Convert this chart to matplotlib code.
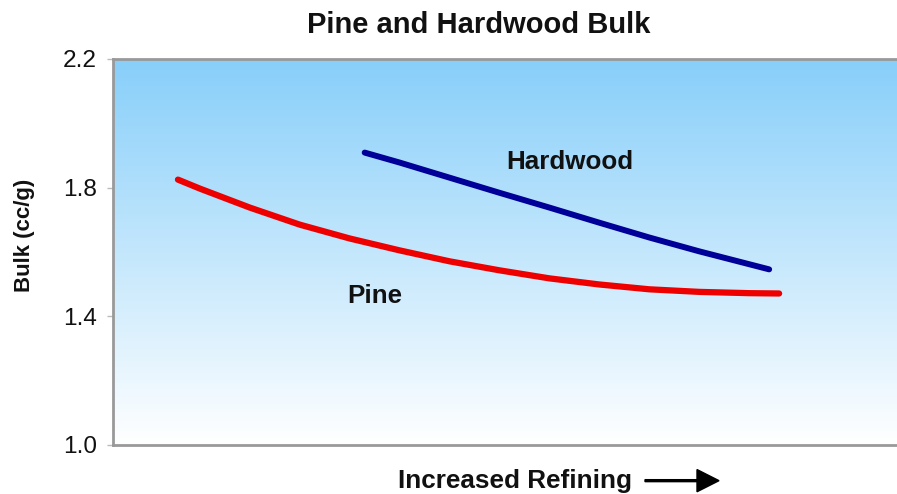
import numpy as np
import matplotlib
matplotlib.use('Agg')
import matplotlib.pyplot as plt

# Values (x in arbitrary "refining" units)
pine_x = [0.65, 0.87, 1.37, 1.87, 2.37, 2.87, 3.37, 3.87, 4.37, 4.87, 5.37, 5.87, 6.37, 6.67]
pine_y = [1.825, 1.797, 1.738, 1.685, 1.642, 1.605, 1.571, 1.543, 1.518, 1.499,
          1.484, 1.476, 1.472, 1.471]
hard_x = [2.52, 2.87, 3.37, 3.87, 4.37, 4.87, 5.37, 5.87, 6.57]
hard_y = [1.909, 1.878, 1.831, 1.784, 1.738, 1.691, 1.645, 1.602, 1.546]
y_ticks = [1.0, 1.4, 1.8, 2.2]
y_tick_labels = ['1.0', '1.4', '1.8', '2.2']

plt.rcParams['font.family'] = ['Liberation Sans', 'DejaVu Sans']

fig = plt.figure(figsize=(8.97, 4.94), dpi=100)
ax = fig.add_axes([0.126, 0.0992, 0.884, 0.7814])

# gradient background, sky blue on top fading to white
top = np.array([0.53, 0.81, 0.98])
bottom = np.array([1.0, 1.0, 1.0])
t = np.linspace(0, 1, 256)[:, None]
grad = top * (1 - t) + bottom * t
grad = grad[:, None, :]
ax.imshow(grad, extent=[0, 7.94, 1.0, 2.2], aspect='auto', origin='upper', zorder=0)

ax.plot(pine_x, pine_y, color='#ee0000', lw=4.5, solid_capstyle='round',
        solid_joinstyle='round', zorder=3)
ax.plot(hard_x, hard_y, color='#000099', lw=4.3, solid_capstyle='round',
        solid_joinstyle='round', zorder=3)

ax.text(4.57, 1.881, 'Hardwood', fontsize=18.7, fontweight='bold', ha='center', va='center', color='#111111')
ax.text(2.62, 1.462, 'Pine', fontsize=18.7, fontweight='bold', ha='center', va='center', color='#111111')

ax.set_xlim(0, 7.94)
ax.set_ylim(1.0, 2.2)
ax.set_yticks(y_ticks)
ax.set_yticklabels(y_tick_labels)
ax.set_xticks([])
ax.tick_params(axis='y', length=4.5, width=1, color='#bbbbbb', pad=7, labelsize=17.6, labelcolor='#111111')

for side in ['left', 'top', 'bottom']:
    ax.spines[side].set_color('#999999')
    ax.spines[side].set_linewidth(2)
ax.spines['right'].set_visible(False)

fig.text(0.5335, 0.949, 'Pine and Hardwood Bulk', fontsize=21, fontweight='bold', ha='center', va='center', color='#111111')
fig.text(0.027, 0.524, 'Bulk (cc/g)', fontsize=16, fontweight='bold', rotation=90, ha='center', va='center', color='#111111')
fig.text(0.5745, 0.027, 'Increased Refining', fontsize=18.8, fontweight='bold', ha='center', va='center', color='#111111')
fig.patches.append(matplotlib.patches.FancyArrow(
    645 / 897, 0.027, 52 / 897, 0, width=0.004, head_width=0.045, head_length=22 / 897,
    length_includes_head=False, color='black', transform=fig.transFigure, figure=fig))

fig.savefig('out.png', dpi=100)
